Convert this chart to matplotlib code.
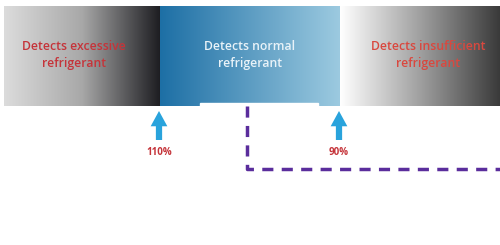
import numpy as np
import matplotlib
matplotlib.use('Agg')
import matplotlib.pyplot as plt
from matplotlib.colors import LinearSegmentedColormap

# zones across the band, left to right
zone_labels = ['Detects excessive\nrefrigerant', 'Detects normal\nrefrigerant', 'Detects insufficient\nrefrigerant']
zone_edges = [4, 160, 340, 500]
zone_colors = [('#dcdcdc', '#a8a8a8', '#1e1e22'), ('#1d6fa5', '#9ccae0'), ('#ffffff', '#a0a0a0', '#3a3a3a')]
text_colors = ['#c5343a', '#e8f2f8', '#d9483f']

# threshold markers
marker_labels = ['110%', '90%']
marker_x = [159, 339]

f = plt.figure(figsize=(5, 2.45), dpi=100)
ax = plt.axes([0, 0, 1, 1])
ax.set_xlim(0, 500)
ax.set_ylim(245, 0)
ax.axis('off')

band_top, band_bot = 7, 106
grad = np.linspace(0, 1, 256).reshape(1, -1)
for i in range(3):
    cm = LinearSegmentedColormap.from_list('z%d' % i, zone_colors[i])
    ax.imshow(grad, cmap=cm, aspect='auto',
              extent=[zone_edges[i], zone_edges[i+1], band_bot, band_top], zorder=1)
    xc = (zone_edges[i] + zone_edges[i+1]) / 2
    ax.text(xc - (8 if i == 0 else 0) + (8 if i == 2 else 0), 55, zone_labels[i],
            ha='center', va='center', color=text_colors[i], fontsize=8.8,
            family='Open Sans', fontweight='semibold', linespacing=1.35, zorder=3)

# thin white notch under the blue band
ax.add_patch(plt.Rectangle((200, 103), 118, 4, color='white', zorder=2))

for x, lab in zip(marker_x, marker_labels):
    ax.annotate('', xy=(x, 111), xytext=(x, 140),
                arrowprops=dict(width=4.5, headwidth=12, headlength=11, color='#29a3dc', lw=0))
    ax.text(x, 152, lab, ha='center', va='center', color='#c5343a',
            fontsize=7, family='Open Sans', fontweight='bold')

# dashed connector
ax.plot([247, 247, 500], [106, 169, 169], color='#5a2d9c', lw=2.5,
        dashes=(3.2, 2.4), solid_capstyle='butt', zorder=2)

plt.savefig('out.png', dpi=100)
plt.close(f)
